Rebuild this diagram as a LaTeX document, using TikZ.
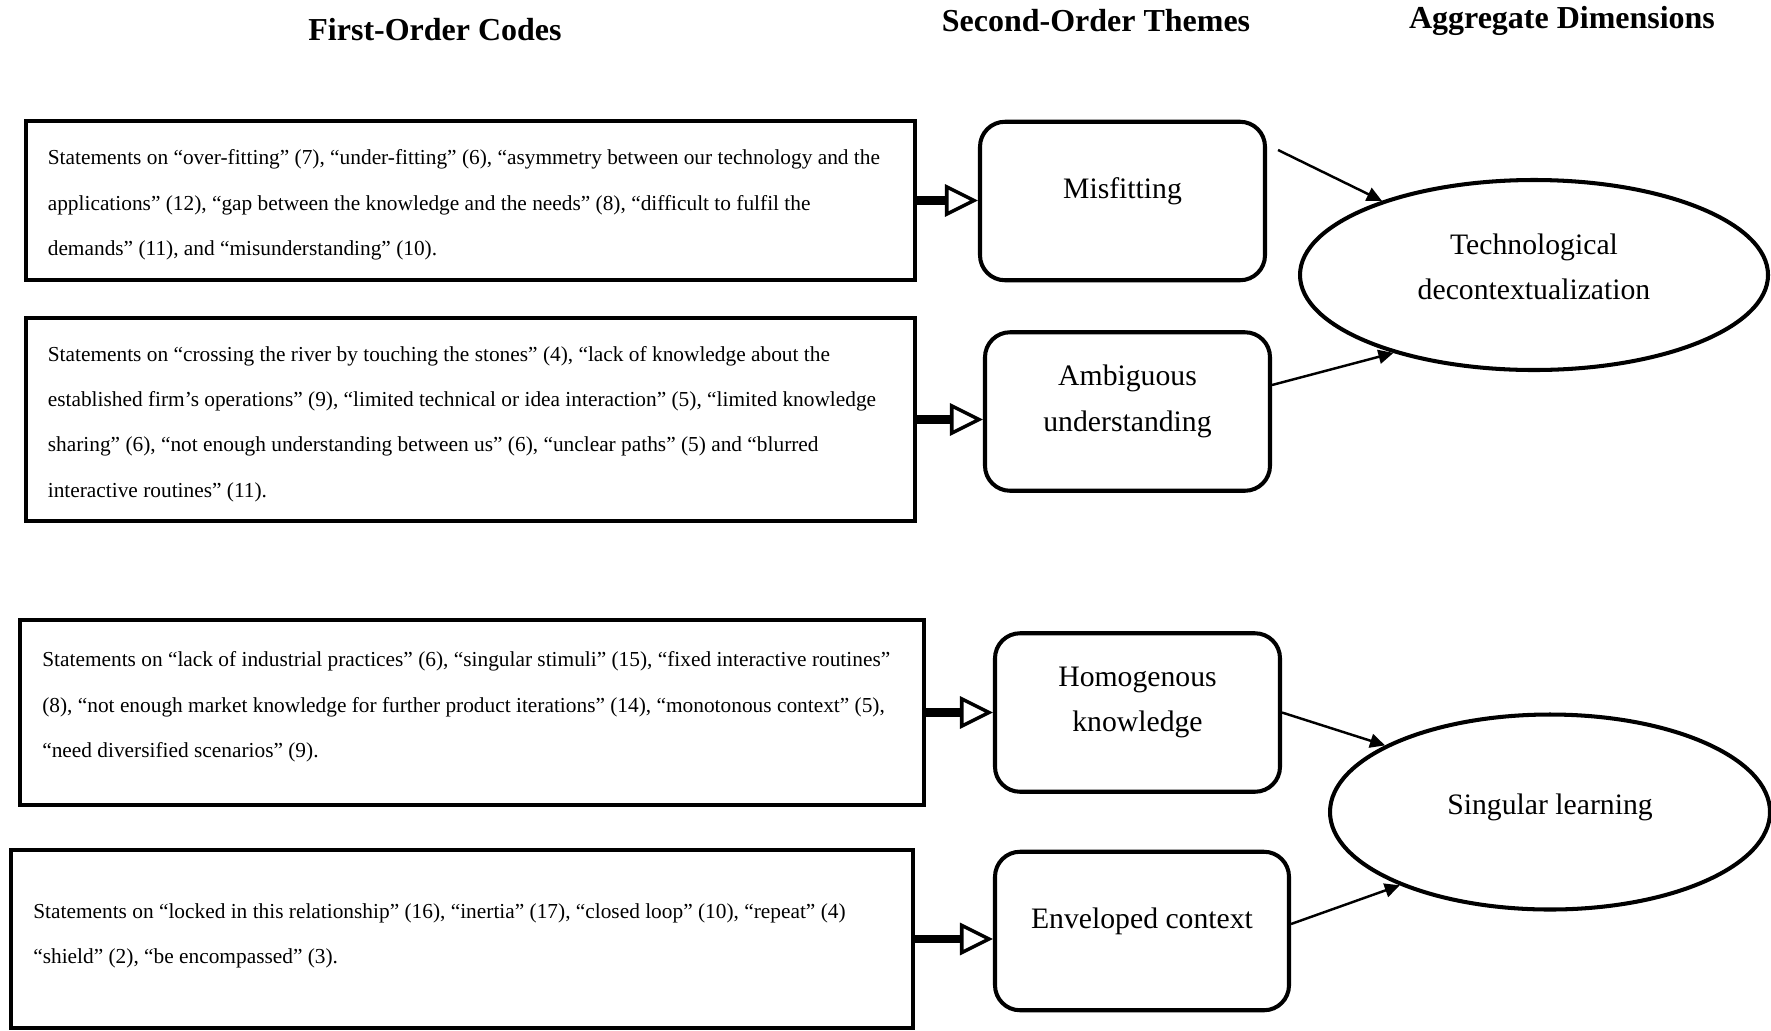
\documentclass[tikz,border=0pt]{standalone}
\usepackage{fontspec}
\setmainfont{Liberation Serif}
\usetikzlibrary{arrows.meta,positioning,calc,shapes.geometric}
\tikzset{codebox/.style={draw,line width=2.3pt,minimum width=17.78cm,inner sep=0pt},codetext/.style={align=left,anchor=west,inner sep=0pt,font=\fontsize{12.15}{25.8}\selectfont},theme/.style={draw,line width=2.3pt,rounded corners=0.5cm,minimum width=5.7cm,minimum height=3.17cm,align=center,text depth=0.53cm,font=\fontsize{16.9}{25.8}\selectfont},dimension/.style={ellipse,draw,line width=2.3pt,inner sep=0pt,align=center,text depth=0.33cm,font=\fontsize{16.9}{25.8}\selectfont},head/.style={font=\fontsize{18.2}{21}\selectfont\bfseries},feed/.style={-{Triangle[open,length=0.66cm,width=0.64cm,line width=2pt]},line width=4.6pt},link/.style={-{Triangle[length=0.3cm,width=0.28cm]},line width=1.4pt}}

\begin{document}
\begin{tikzpicture}
\useasboundingbox (0,0) rectangle (35.42,-20.6);
\node[head] (h1) at (8.7,-0.6) {First-Order Codes};
\node[head] (h2) at (21.92,-0.42) {Second-Order Themes};
\node[head] (h3) at (31.24,-0.42) {Aggregate Dimensions};
% first-order codes
\node[codebox,minimum height=3.18cm] (c1) at (9.41,-4.01) {};
\node[codebox,minimum height=4.06cm] (c2) at (9.41,-8.39) {};
\node[codebox,minimum width=18.08cm,minimum height=3.7cm] (c3) at (9.44,-14.25) {};
\node[codebox,minimum width=18.04cm,minimum height=3.56cm] (c4) at (9.24,-18.78) {};
\node[codetext] (t1) at ([xshift=0.47cm,yshift=-0.09cm]c1.west) {Statements on “over-fitting” (7), “under-fitting” (6), “asymmetry between our technology and the\\applications” (12), “gap between the knowledge and the needs” (8), “difficult to fulfil the\\demands” (11), and “misunderstanding” (10).};
\node[codetext] (t2) at ([xshift=0.47cm,yshift=-0.09cm]c2.west) {Statements on “crossing the river by touching the stones” (4), “lack of knowledge about the\\established firm’s operations” (9), “limited technical or idea interaction” (5), “limited knowledge\\sharing” (6), “not enough understanding between us” (6), “unclear paths” (5) and “blurred\\interactive routines” (11).};
\node[codetext] (t3) at ([xshift=0.48cm,yshift=0.11cm]c3.west) {Statements on “lack of industrial practices” (6), “singular stimuli” (15), “fixed interactive routines”\\(8), “not enough market knowledge for further product iterations” (14), “monotonous context” (5),\\“need diversified scenarios” (9).};
\node[codetext] (t4) at ([xshift=0.48cm,yshift=0.06cm]c4.west) {Statements on “locked in this relationship” (16), “inertia” (17), “closed loop” (10), “repeat” (4)\\“shield” (2), “be encompassed” (3).};
% second-order themes
\node[theme] (mis) at (22.45,-4.02) {Misfitting};
\node[theme] (amb) at (22.55,-8.23) {Ambiguous\\understanding};
\node[theme] (hom) at (22.75,-14.25) {Homogenous\\knowledge};
\node[theme,minimum width=5.88cm] (env) at (22.84,-18.62) {Enveloped context};
% aggregate dimensions
\node[dimension,minimum width=9.36cm,minimum height=3.8cm] (tec) at (30.68,-5.5) {Technological\\decontextualization};
\node[dimension,minimum width=8.8cm,minimum height=3.9cm] (sin) at (31.0,-16.24) {Singular learning};
\foreach \aa/\bb in {c1/mis,c2/amb,c3/hom,c4/env}{\draw[feed](\aa.east)--(\aa.east-|\bb.west);}
\draw[link] ([xshift=0.22cm,yshift=1.02cm]mis.east) -- (tec.154);
\draw[link] ([yshift=0.53cm]amb.east) -- (tec.209);
\draw[link] (hom.east) -- (sin.158);
\draw[link] ([yshift=0.14cm]env.east) -- (sin.206);
\end{tikzpicture}
\end{document}
